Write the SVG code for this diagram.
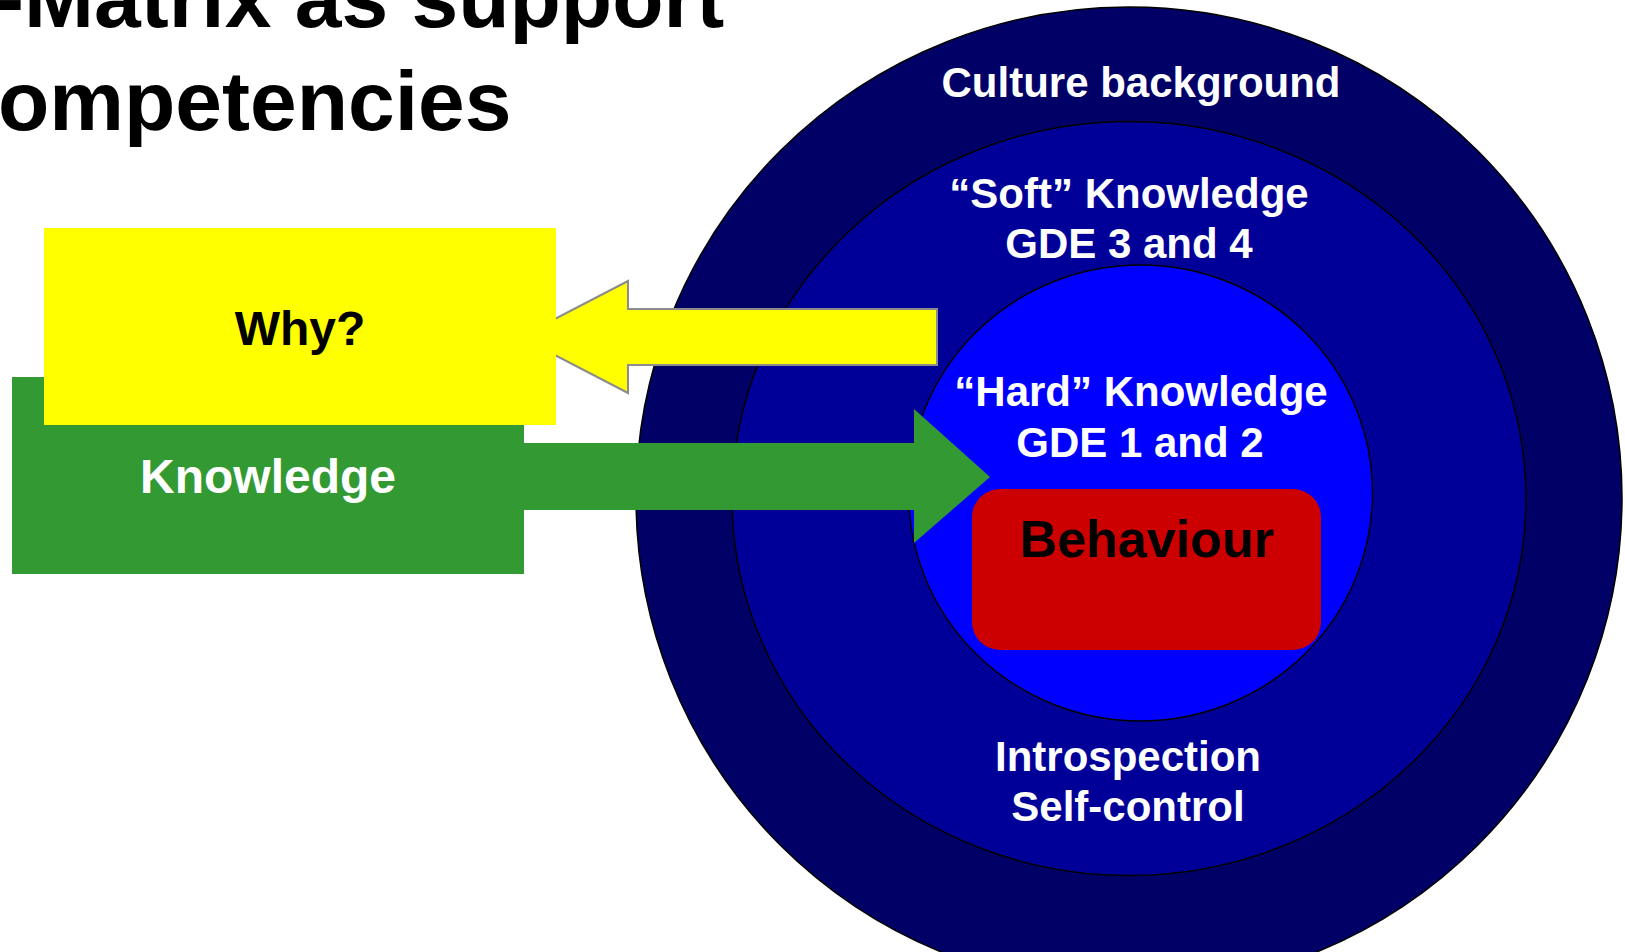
<svg xmlns="http://www.w3.org/2000/svg" width="1625" height="952" viewBox="0 0 1625 952">
  <style>
    text { font-family: "Liberation Sans", Arial, sans-serif; font-weight: bold; }
    .ring { stroke: #000000; stroke-width: 1.5; }
    .lbl { fill: #ffffff; font-size: 42px; text-anchor: middle; }
    .title { fill: #000000; font-size: 84px; }
  </style>
  <rect x="0" y="0" width="1625" height="952" fill="#ffffff"/>

  <g id="title">
    <text class="title" x="-4" y="27">-Matrix as support</text>
    <text class="title" x="-2" y="130">ompetencies</text>
  </g>

  <g id="ring-culture">
    <ellipse class="ring" cx="1129" cy="498" rx="493" ry="491" fill="#000066"/>
    <text class="lbl" x="1141" y="97">Culture background</text>
  </g>

  <g id="ring-soft">
    <ellipse class="ring" cx="1129" cy="498.5" rx="397" ry="377" fill="#000099"/>
    <text class="lbl" x="1129" y="208">“Soft” Knowledge</text>
    <text class="lbl" x="1129" y="258">GDE 3 and 4</text>
    <text class="lbl" x="1128" y="771">Introspection</text>
    <text class="lbl" x="1128" y="821">Self-control</text>
  </g>

  <g id="ring-hard">
    <ellipse class="ring" cx="1140.5" cy="493" rx="232" ry="228" fill="#0000ff"/>
    <text class="lbl" x="1141" y="406">“Hard” Knowledge</text>
    <text class="lbl" x="1140" y="457">GDE 1 and 2</text>
  </g>

  <g id="behaviour">
    <rect x="972" y="489" width="349" height="161" rx="28" ry="28" fill="#cc0000"/>
    <text x="1147" y="557" font-size="52" fill="#000000" text-anchor="middle">Behaviour</text>
  </g>

  <g id="connectors">
    <polygon points="937,309 628,309 628,281 520,337 628,393 628,365 937,365" fill="#ffff00" stroke="#8c8c8c" stroke-width="2" stroke-linejoin="miter"/>
    <polygon points="520,443 914,443 914,409 990,477 914,543 914,510 520,510" fill="#339933"/>
  </g>

  <g id="knowledge">
    <rect x="12" y="377" width="512" height="197" fill="#339933"/>
    <text x="268" y="493" font-size="48" fill="#ffffff" text-anchor="middle">Knowledge</text>
  </g>

  <g id="why">
    <rect x="44" y="228" width="512" height="197" fill="#ffff00"/>
    <text x="300" y="345" font-size="48" fill="#000000" text-anchor="middle">Why?</text>
  </g>
</svg>
